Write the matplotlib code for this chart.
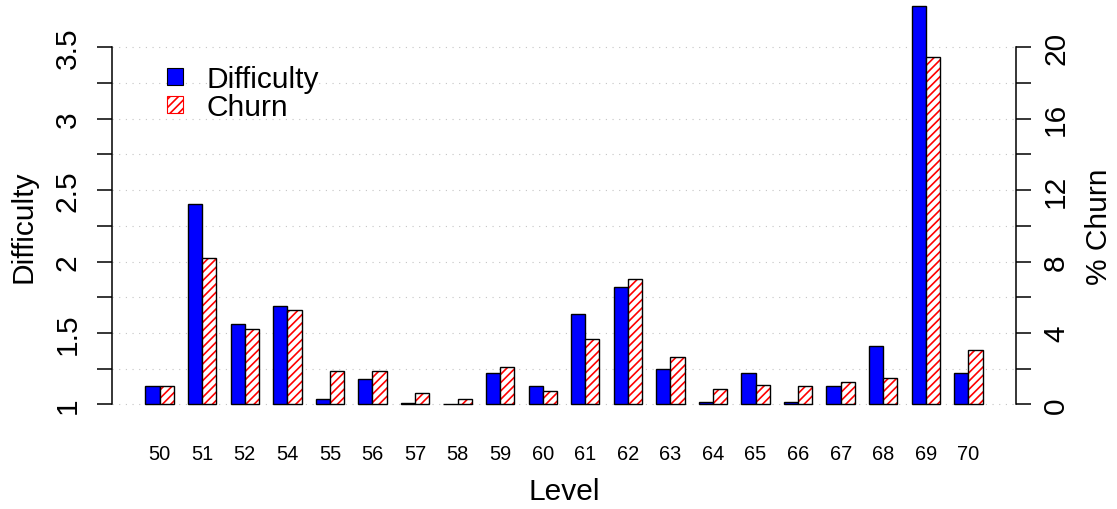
import numpy as np
import matplotlib
matplotlib.use('Agg')
import matplotlib.pyplot as plt
from matplotlib.patches import Patch

plt.rcParams['font.family'] = ['Liberation Sans', 'DejaVu Sans']
plt.rcParams['hatch.linewidth'] = 1.2

levels = ['50', '51', '52', '54', '55', '56', '57', '58', '59', '60',
          '61', '62', '63', '64', '65', '66', '67', '68', '69', '70']
difficulty = [1.13, 2.40, 1.56, 1.69, 1.04, 1.18, 1.01, 1.005, 1.22, 1.13,
              1.63, 1.82, 1.25, 1.015, 1.22, 1.015, 1.13, 1.41, 3.79, 1.22]
churn = [1.04, 8.2, 4.2, 5.3, 1.85, 1.85, 0.62, 0.3, 2.07, 0.73,
         3.66, 7.0, 2.63, 0.86, 1.1, 1.0, 1.23, 1.46, 19.47, 3.04]

W, H = 1117, 510
fig = plt.figure(figsize=(W / 100, H / 100), dpi=100)
ax = fig.add_axes([112 / W, (H - 419.6) / H, 904 / W, 385.6 / H])
ax2 = ax.twinx()

# barplot-style layout: two bars of width 1 per group, one unit gap between groups
centers = 2 + 3 * np.arange(len(levels))
ax.set_xlim(-1.36, 62.36)
ax.set_ylim(0.9, 3.6)
ax2.set_ylim(-0.8, 20.8)

diff_ticks = np.arange(1, 3.51, 0.25)
ax.hlines(diff_ticks, -1.36, 62.36, colors='#c4c4c4', linewidth=0.8,
          linestyles=(0, (1, 5)), zorder=0)

ax.bar(centers - 0.5, np.array(difficulty) - 1, bottom=1, width=1,
       color='#0000ff', edgecolor='black', linewidth=1.0, clip_on=False, zorder=2)
# hatched churn bars: red hatch on white, then a black outline on top
ax2.bar(centers + 0.5, churn, width=1, color='white', edgecolor='red',
        hatch='////', linewidth=0, clip_on=False, zorder=2)
ax2.bar(centers + 0.5, churn, width=1, fill=False, edgecolor='black',
        linewidth=1.0, clip_on=False, zorder=3)

for a in (ax, ax2):
    for s in ('top', 'bottom'):
        a.spines[s].set_visible(False)
ax.spines['right'].set_visible(False)
ax2.spines['left'].set_visible(False)
ax.spines['left'].set_bounds(1, 3.5)
ax2.spines['right'].set_bounds(0, 20)
ax.spines['left'].set_linewidth(1.1)
ax2.spines['right'].set_linewidth(1.1)

ax.set_yticks(diff_ticks)
ax.set_yticklabels(['1' if t == 1 else ('%g' % t if t * 2 == int(t * 2) else '')
                    for t in diff_ticks])
ax.tick_params(axis='y', length=10.8, width=1.1, labelsize=21.5, pad=11,
               labelrotation=90)
for lab in ax.get_yticklabels():
    lab.set_va('center')

churn_ticks = np.arange(0, 21, 2)
ax2.set_yticks(churn_ticks)
ax2.set_yticklabels([str(t) if t % 4 == 0 else '' for t in churn_ticks])
ax2.tick_params(axis='y', length=10.8, width=1.1, labelsize=21.5, pad=8,
                labelrotation=90)
for lab in ax2.get_yticklabels():
    lab.set_va('center')

ax.set_xticks(centers)
ax.set_xticklabels(levels)
ax.tick_params(axis='x', length=0, labelsize=14.4, pad=18.5)

fig.text(0.5 * (112 + 1016) / W, 1 - 492 / H, 'Level', fontsize=21.5,
         ha='center', va='center')
fig.text(24 / W, 1 - 227 / H, 'Difficulty', fontsize=21.5, rotation=90,
         ha='center', va='center')
fig.text(1099 / W, 1 - 227 / H, '% Churn', fontsize=21.5, rotation=90,
         ha='center', va='center')

handles = [Patch(facecolor='#0000ff', edgecolor='black', linewidth=0.8),
           Patch(facecolor='white', edgecolor='red', hatch='////', linewidth=0.8)]
leg = ax2.legend(handles, ['Difficulty', 'Churn'], loc='upper left',
                 bbox_to_anchor=(166.7 / W, 1 - 66 / H),
                 bbox_transform=fig.transFigure, frameon=False, fontsize=21.5,
                 borderpad=0, borderaxespad=0, handlelength=0.56,
                 handleheight=0.47, handletextpad=0.78, labelspacing=0.0)

fig.savefig('out.png', dpi=100)
